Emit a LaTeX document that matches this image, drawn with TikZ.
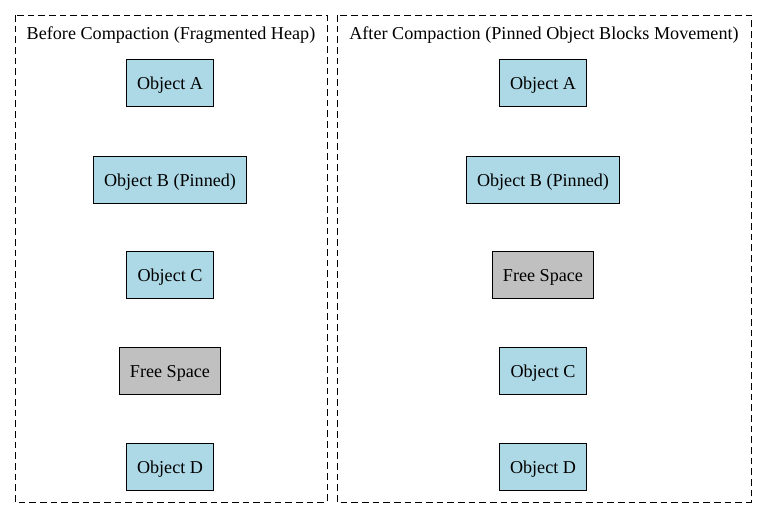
\documentclass[tikz,border=0pt]{standalone}
\usepackage{fontspec}
\setmainfont{Liberation Serif}
\definecolor{objblue}{HTML}{ADD8E6}
\definecolor{freegray}{HTML}{C0C0C0}
\tikzset{
  heapobj/.style={draw=black,fill=objblue,minimum height=35pt,inner sep=0pt,text depth=0pt,font=\fontsize{13.6}{15}\selectfont},
  freeobj/.style={heapobj,fill=freegray},
  cluster/.style={draw=black,line width=0.7pt,dash pattern=on 5pt off 3pt},
  title/.style={font=\fontsize{13.6}{15}\selectfont}
}
\begin{document}
\begin{tikzpicture}[x=0.75pt,y=-0.75pt]
\useasboundingbox (0,0) rectangle (767,518);

% The clusters
\draw[cluster] (15,15) rectangle (327,502);
\draw[cluster] (337,15) rectangle (751,502);
\node[title] (before) at (171,35) {Before Compaction (Fragmented Heap)};
\node[title] (after) at (544,35) {After Compaction (Pinned Object Blocks Movement)};

% Before compaction
\node[heapobj,minimum width=65pt] (bA) at (170,83) {Object A};
\node[heapobj,minimum width=115pt] (bB) at (170,180) {Object B (Pinned)};
\node[heapobj,minimum width=65pt] (bC) at (170,275) {Object C};
\node[freeobj,minimum width=76pt] (bF) at (170,371) {Free Space};
\node[heapobj,minimum width=65pt] (bD) at (170,467) {Object D};

% After compaction
\node[heapobj,minimum width=65pt] (aA) at (543,83) {Object A};
\node[heapobj,minimum width=115pt] (aB) at (543,180) {Object B (Pinned)};
\node[freeobj,minimum width=76pt] (aF) at (543,275) {Free Space};
\node[heapobj,minimum width=65pt] (aC) at (543,371) {Object C};
\node[heapobj,minimum width=65pt] (aD) at (543,467) {Object D};

\end{tikzpicture}
\end{document}
